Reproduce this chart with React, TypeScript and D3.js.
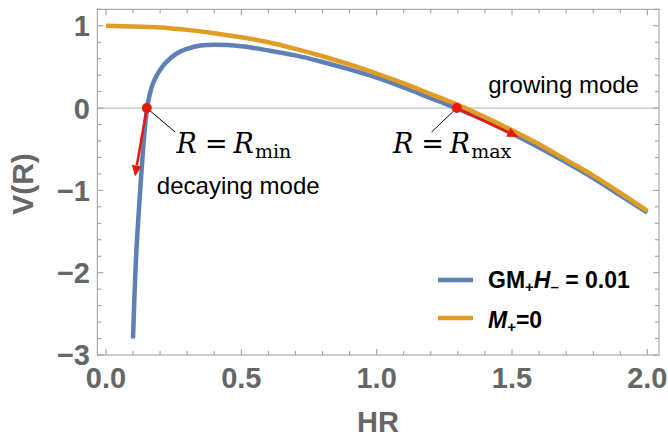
import React from "react";
import * as d3 from "d3";

// values (HR, V)
const orangeX = [0, 0.1, 0.2, 0.3, 0.4, 0.5, 0.6, 0.7, 0.8, 0.9, 1.0, 1.1, 1.2, 1.3, 1.4, 1.5, 1.6, 1.7, 1.8, 1.9, 2.0];
const orangeV = [1.0, 0.99, 0.98, 0.95, 0.91, 0.86, 0.8, 0.72, 0.63, 0.53, 0.42, 0.3, 0.17, 0.04, -0.11, -0.27, -0.44, -0.63, -0.82, -1.03, -1.25];

const blueX = [0.1, 0.104, 0.108, 0.113, 0.12, 0.128, 0.136, 0.144, 0.152, 0.162, 0.175, 0.19, 0.21, 0.23, 0.26, 0.3, 0.35, 0.4, 0.45, 0.5, 0.6, 0.7, 0.8, 0.9, 1.0, 1.1, 1.2, 1.3, 1.4, 1.5, 1.6, 1.7, 1.8, 1.9, 2.0];
const blueV = [-2.8, -2.4, -2.05, -1.7, -1.32, -0.92, -0.55, -0.24, 0.0, 0.17, 0.31, 0.41, 0.51, 0.58, 0.66, 0.72, 0.76, 0.77, 0.765, 0.75, 0.7, 0.64, 0.56, 0.47, 0.37, 0.25, 0.12, -0.01, -0.15, -0.31, -0.48, -0.66, -0.85, -1.06, -1.27];

const xTicks = [0, 0.5, 1, 1.5, 2];
const xTickLabels = ["0.0", "0.5", "1.0", "1.5", "2.0"];
const yTicks = [-3, -2, -1, 0, 1];
const yTickLabels = ["\u22123", "\u22122", "\u22121", "0", "1"];

// turning points and the mode arrows, in data units
const dotX = [0.151, 1.296];
const dotV = [0, 0];
const arrowEndX = [0.107, 1.523];
const arrowEndV = [-0.83, -0.35];
const leaderEndX = [0.255, 1.203];
const leaderEndV = [-0.29, -0.29];
const labelX = [0.261, 1.06];
const labelV = [-0.54, -0.54];
const labelSub = ["min", "max"];

const noteText = ["decaying mode", "growing mode"];
const noteX = [0.188, 1.412];
const noteV = [-1.04, 0.18];

const BLUE = "#5e81b5";
const ORANGE = "#e19c24";
const RED = "#e8190c";
const GRAY = "#666666";
const FRAME = "#9a9a9a";

const W = 668;
const H = 437;
const left = 97.3;
const right = 659;
const top = 9.3;
const bottom = 355;

export default function App() {
  const x = d3.scaleLinear().domain([-0.032, 2.043]).range([left, right]);
  const y = d3.scaleLinear().domain([-3, 1.2]).range([bottom, top]);

  const line = d3
    .line<[number, number]>()
    .x(d => x(d[0]))
    .y(d => y(d[1]))
    .curve(d3.curveMonotoneX);

  const orange = orangeX.map((v, i) => [v, orangeV[i]] as [number, number]);
  const blue = blueX.map((v, i) => [v, blueV[i]] as [number, number]);

  const xMinor = d3.range(0, 2.001, 0.1);
  const yMinor = d3.range(-3, 1.201, 0.2);
  const isMajor = (v: number, step: number) => Math.abs(v / step - Math.round(v / step)) < 1e-6;

  const arrows = dotX.map((dx, i) => {
    const x0 = x(dx), y0 = y(dotV[i]);
    const x1 = x(arrowEndX[i]), y1 = y(arrowEndV[i]);
    const len = Math.hypot(x1 - x0, y1 - y0);
    const ux = (x1 - x0) / len, uy = (y1 - y0) / len;
    const hl = 11, hw = 5;
    const bx = x1 - ux * hl, by = y1 - uy * hl;
    const head = [
      [x1, y1],
      [bx - uy * hw, by + ux * hw],
      [bx + uy * hw, by - ux * hw],
    ].map(p => p.join(",")).join(" ");
    return { x0, y0, bx, by, head };
  });

  return (
    <svg width={W} height={H} style={{ position: "absolute", left: 0, top: 0 }}>
      <rect width={W} height={H} fill="#fff" />

      {/* zero line */}
      <line x1={left} x2={right} y1={y(0)} y2={y(0)} stroke="#b4b4b4" strokeWidth={1} />

      {/* frame */}
      <rect x={left} y={top} width={right - left} height={bottom - top} fill="none" stroke={FRAME} strokeWidth={1} />

      {/* ticks */}
      {xMinor.map((t, i) => {
        const len = isMajor(t, 0.5) ? 6 : 4;
        return (
          <g key={"xt" + i} stroke={FRAME} strokeWidth={1}>
            <line x1={x(t)} x2={x(t)} y1={bottom} y2={bottom - len} />
            <line x1={x(t)} x2={x(t)} y1={top} y2={top + len} />
          </g>
        );
      })}
      {yMinor.map((t, i) => {
        const len = isMajor(t, 1) ? 6 : 4;
        return (
          <g key={"yt" + i} stroke={FRAME} strokeWidth={1}>
            <line x1={left} x2={left + len} y1={y(t)} y2={y(t)} />
            <line x1={right} x2={right - len} y1={y(t)} y2={y(t)} />
          </g>
        );
      })}

      {/* tick labels */}
      <g fontFamily="Liberation Sans, Arial, sans-serif" fontWeight="bold" fontSize={29} fill={GRAY}>
        {xTicks.map((t, i) => (
          <text key={"xl" + i} x={x(t)} y={388} textAnchor="middle">
            {xTickLabels[i]}
          </text>
        ))}
        {yTicks.map((t, i) => (
          <text key={"yl" + i} x={90} y={y(t)} dy="0.36em" textAnchor="end">
            {yTickLabels[i]}
          </text>
        ))}
      </g>

      {/* axis titles */}
      <text x={378} y={432} textAnchor="middle" fontFamily="Liberation Sans, Arial, sans-serif" fontWeight="bold" fontSize={29} fill={GRAY}>
        HR
      </text>
      <text
        transform="translate(33,184) rotate(-90)"
        textAnchor="middle"
        fontFamily="Liberation Sans, Arial, sans-serif"
        fontWeight="bold"
        fontSize={30}
        fill={GRAY}
      >
        V(R)
      </text>

      {/* curves */}
      <path d={line(blue) || ""} fill="none" stroke={BLUE} strokeWidth={4.5} strokeLinejoin="round" />
      <path d={line(orange) || ""} fill="none" stroke={ORANGE} strokeWidth={4.5} strokeLinejoin="round" />

      {/* leader lines + labels */}
      {dotX.map((dx, i) => (
        <g key={"lab" + i}>
          <line x1={x(dx)} y1={y(dotV[i])} x2={x(leaderEndX[i])} y2={y(leaderEndV[i])} stroke="#000" strokeWidth={1} />
          <text x={x(labelX[i])} y={y(labelV[i])} fontFamily="DejaVu Serif, serif" fontSize={27} fill="#000">
            <tspan fontStyle="italic">R</tspan>
            <tspan dx={8}>=</tspan>
            <tspan dx={6} fontStyle="italic">R</tspan>
            <tspan fontSize={19} dx={1} dy={5}>{labelSub[i]}</tspan>
          </text>
        </g>
      ))}

      {/* arrows and dots */}
      {arrows.map((a, i) => (
        <g key={"ar" + i}>
          <line x1={a.x0} y1={a.y0} x2={a.bx} y2={a.by} stroke={RED} strokeWidth={2.5} />
          <polygon points={a.head} fill={RED} />
          <circle cx={a.x0} cy={a.y0} r={5} fill={RED} />
        </g>
      ))}

      {/* notes */}
      {noteText.map((t, i) => (
        <text key={"n" + i} x={x(noteX[i])} y={y(noteV[i])} fontFamily="Liberation Sans, Arial, sans-serif" fontSize={24} fill="#000">
          {t}
        </text>
      ))}

      {/* legend */}
      <g fontFamily="Liberation Sans, Arial, sans-serif" fontWeight="bold" fontSize={23} fill="#000">
        <line x1={438} x2={473} y1={280} y2={280} stroke={BLUE} strokeWidth={4.5} />
        <text x={488} y={288}>
          <tspan>GM</tspan>
          <tspan fontSize={15} dy={4}>+</tspan>
          <tspan fontStyle="italic" dy={-4}>H</tspan>
          <tspan fontSize={15} dy={4}>{"\u2013"}</tspan>
          <tspan dy={-4}> = 0.01</tspan>
        </text>
        <line x1={438} x2={473} y1={318} y2={318} stroke={ORANGE} strokeWidth={4.5} />
        <text x={488} y={328}>
          <tspan fontStyle="italic">M</tspan>
          <tspan fontSize={15} dy={4}>+</tspan>
          <tspan dy={-4}>=0</tspan>
        </text>
      </g>
    </svg>
  );
}
